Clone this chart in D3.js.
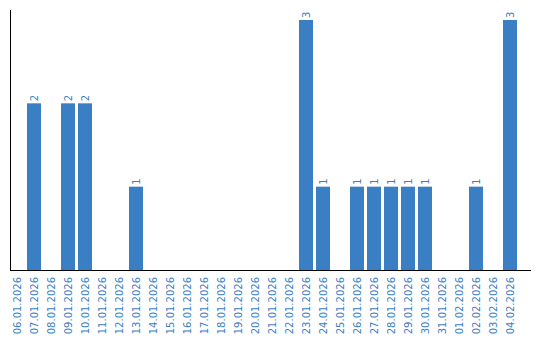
<!DOCTYPE html>
<html>
<head>
<meta charset="utf-8">
<script src="https://cdn.jsdelivr.net/npm/d3@7"></script>
<style>
  body { margin: 0; background: #fff; }
  svg { display: block; }
</style>
</head>
<body>
<div id="chart"></div>
<script>
const dates = [
  "06.01.2026", "07.01.2026", "08.01.2026", "09.01.2026", "10.01.2026",
  "11.01.2026", "12.01.2026", "13.01.2026", "14.01.2026", "15.01.2026",
  "16.01.2026", "17.01.2026", "18.01.2026", "19.01.2026", "20.01.2026",
  "21.01.2026", "22.01.2026", "23.01.2026", "24.01.2026", "25.01.2026",
  "26.01.2026", "27.01.2026", "28.01.2026", "29.01.2026", "30.01.2026",
  "31.01.2026", "01.02.2026", "02.02.2026", "03.02.2026", "04.02.2026"
];
const counts = [
  0, 2, 0, 2, 2,
  0, 0, 1, 0, 0,
  0, 0, 0, 0, 0,
  0, 0, 3, 1, 0,
  1, 1, 1, 1, 1,
  0, 0, 1, 0, 3
];

const blue = "#3a7ec4";
const width = 540, height = 340;
const plotLeft = 10, plotTop = 10, plotBottom = 270, axisRight = 531;
const step = 17, gap = 3;

const data = dates.map((d, i) => ({ date: d, value: counts[i] }));

const svg = d3.select("#chart")
  .append("svg")
  .attr("width", width)
  .attr("height", height);

// x scale: 17px per day, 14px bars
const x = d3.scaleBand()
  .domain(dates)
  .range([plotLeft, plotLeft + dates.length * step - gap])
  .paddingInner(gap / step)
  .paddingOuter(0);

const y = d3.scaleLinear()
  .domain([0, d3.max(counts) * 1.04])
  .range([plotBottom, plotTop]);

// bars
svg.selectAll("rect.bar")
  .data(data.filter(d => d.value > 0))
  .enter()
  .append("rect")
  .attr("class", "bar")
  .attr("x", d => x(d.date))
  .attr("y", d => y(d.value))
  .attr("width", x.bandwidth())
  .attr("height", d => y(0) - y(d.value))
  .attr("fill", blue);

// value labels
svg.selectAll("text.val")
  .data(data.filter(d => d.value > 0))
  .enter()
  .append("text")
  .attr("class", "val")
  .attr("transform", d => `translate(${x(d.date) + x.bandwidth() / 2 + 3.5},${y(d.value) - 2}) rotate(-90)`)
  .attr("text-anchor", "start")
  .style("font-family", "DejaVu Sans, sans-serif")
  .style("font-size", "10px")
  .attr("fill", blue)
  .text(d => d.value);

// axes
svg.append("line")
  .attr("x1", plotLeft + 0.5).attr("x2", plotLeft + 0.5)
  .attr("y1", plotTop).attr("y2", plotBottom)
  .attr("stroke", "#000");
svg.append("line")
  .attr("x1", plotLeft).attr("x2", axisRight)
  .attr("y1", plotBottom + 0.5).attr("y2", plotBottom + 0.5)
  .attr("stroke", "#000");

// date labels
svg.selectAll("text.date")
  .data(dates)
  .enter()
  .append("text")
  .attr("class", "date")
  .attr("transform", d => `translate(${x(d) + x.bandwidth() / 2 + 3.5},${plotBottom + 7}) rotate(-90)`)
  .attr("text-anchor", "end")
  .style("font-family", "DejaVu Sans, sans-serif")
  .style("font-size", "10px")
  .attr("fill", blue)
  .text(d => d);
</script>
</body>
</html>
